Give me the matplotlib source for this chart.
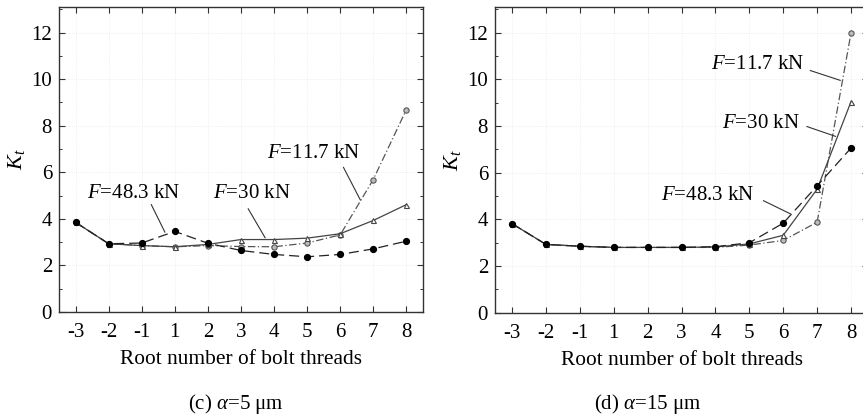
import numpy as np
import matplotlib
matplotlib.use("Agg")
import matplotlib.pyplot as plt
from matplotlib.ticker import MultipleLocator

plt.rcParams['font.family'] = ['Liberation Serif', 'DejaVu Serif']
plt.rcParams['mathtext.fontset'] = 'custom'
plt.rcParams['mathtext.rm'] = 'Liberation Serif'
plt.rcParams['mathtext.it'] = 'Liberation Serif:italic'

# root number of bolt threads (categorical axis)
thread_labels = ['-3', '-2', '-1', '1', '2', '3', '4', '5', '6', '7', '8']

# (c) alpha = 5 um
c_f117 = [3.85, 2.93, 2.85, 2.80, 2.85, 2.81, 2.80, 2.96, 3.31, 5.69, 8.69]
c_f30 = [3.85, 2.93, 2.85, 2.80, 2.90, 3.11, 3.11, 3.17, 3.36, 3.93, 4.61]
c_f483 = [3.85, 2.93, 2.96, 3.46, 2.95, 2.64, 2.47, 2.37, 2.47, 2.71, 3.04]

# (d) alpha = 15 um
d_f117 = [3.82, 2.93, 2.85, 2.80, 2.80, 2.80, 2.80, 2.90, 3.10, 3.88, 12.0]
d_f30 = [3.82, 2.93, 2.85, 2.80, 2.80, 2.80, 2.82, 2.95, 3.32, 5.30, 9.05]
d_f483 = [3.82, 2.93, 2.85, 2.80, 2.80, 2.80, 2.83, 3.00, 3.84, 5.44, 7.06]

x = np.arange(len(thread_labels))

fig = plt.figure(figsize=(8.63, 4.17), dpi=100)
ax1 = fig.add_axes([0.0684, 0.252, 0.4216, 0.731])
ax2 = fig.add_axes([0.5736, 0.250, 0.4322, 0.733])


def draw_panel(ax, f117, f30, f483):
    ax.plot(x, f117, color='#555555', lw=0.9, ls=(0, (6, 2, 1, 2)),
            marker='o', ms=3.8, mfc='#bbbbbb', mec='#555555', mew=0.8, zorder=3)
    ax.plot(x, f30, color='#444444', lw=0.9, ls='-',
            marker='^', ms=3.6, mfc='white', mec='#444444', mew=0.8, zorder=4)
    ax.plot(x, f483, color='#222222', lw=0.9, ls=(0, (8, 4)),
            marker='o', ms=4.2, mfc='black', mec='black', zorder=5)
    ax.set_xlim(-0.5, 10.5)
    ax.set_ylim(0, 13.1)
    ax.set_xticks(x)
    ax.set_xticklabels(thread_labels)
    ax.yaxis.set_major_locator(MultipleLocator(2))
    ax.yaxis.set_minor_locator(MultipleLocator(1))
    ax.tick_params(which='both', direction='in', top=True, right=True,
                   labelsize=15, color='#333333')
    ax.tick_params(which='major', length=4.5, width=0.8)
    ax.tick_params(which='minor', length=2.5, width=0.7)
    ax.tick_params(axis='x', pad=8)
    ax.tick_params(axis='y', pad=5)
    ax.grid(True, ls=':', lw=0.5, color='#e6e6e6')
    ax.set_axisbelow(True)
    for s in ax.spines.values():
        s.set_linewidth(1.0)
        s.set_color('#333333')
    ax.set_xlabel('Root number of bolt threads', fontsize=15.4, labelpad=6)
    ax.set_ylabel('$K_t$', fontsize=16, labelpad=3)


def label(ax, text, xy_text, p0, p1):
    ax.text(xy_text[0], xy_text[1], text, fontsize=15, ha='center', va='center',
            zorder=6)
    ax.plot([p0[0], p1[0]], [p0[1], p1[1]], color='#333333', lw=0.8, zorder=6)


draw_panel(ax1, c_f117, c_f30, c_f483)
label(ax1, '$F$=48.3 kN', (1.75, 5.07), (2.29, 4.61), (2.70, 3.43))
label(ax1, '$F$=30 kN', (5.34, 5.07), (5.22, 4.43), (5.73, 3.19))
label(ax1, '$F$=11.7 kN', (7.21, 6.79), (8.10, 6.21), (8.61, 4.81))

draw_panel(ax2, d_f117, d_f30, d_f483)
label(ax2, '$F$=11.7 kN', (7.25, 10.66), (8.80, 10.38), (9.68, 9.96))
label(ax2, '$F$=30 kN', (7.35, 8.12), (8.70, 7.98), (9.54, 7.56))
label(ax2, '$F$=48.3 kN', (5.77, 5.01), (7.42, 4.80), (8.21, 4.24))

fig.text(0.2735, 0.03, r'(c) $\alpha$=5 μm', fontsize=15, ha='center', va='center')
fig.text(0.75, 0.03, r'(d) $\alpha$=15 μm', fontsize=15, ha='center', va='center')

fig.savefig('out.png', dpi=100)
